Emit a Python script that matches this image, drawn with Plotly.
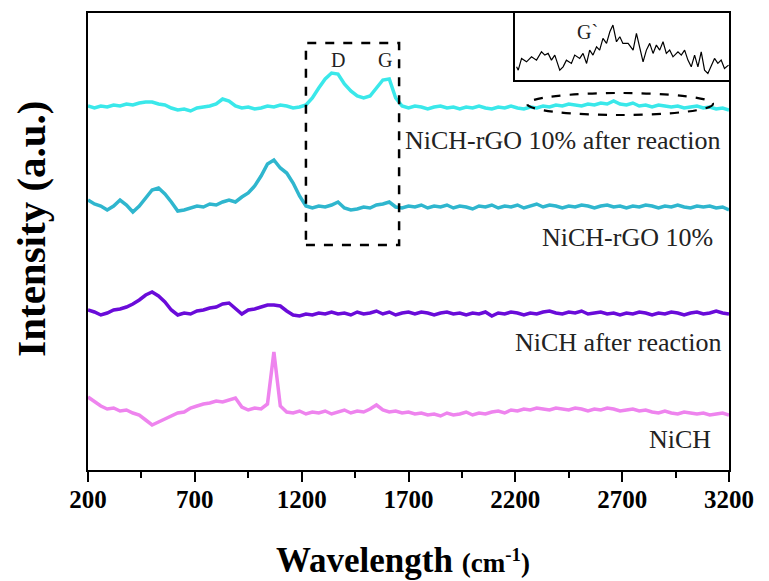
import plotly.graph_objects as go

# ---------------- data ----------------
wavenumber = list(range(200, 3201, 30))  # sampling grid, cm-1

rgo_after = [364, 362, 364, 363, 365, 364, 366, 365, 367, 368,
             368, 366, 365, 362, 360, 361, 359, 362, 363, 364,
             366, 371, 369, 364, 362, 363, 361, 362, 364, 363,
             365, 364, 362, 363, 365, 372, 382, 391, 397, 396,
             386, 379, 374, 372, 374, 382, 390, 391, 372, 364,
             362, 364, 363, 361, 363, 364, 362, 363, 361, 363,
             362, 364, 362, 361, 363, 362, 364, 362, 361, 363,
             362, 364, 363, 365, 364, 366, 365, 364, 366, 365,
             367, 366, 369, 366, 365, 367, 364, 365, 363, 365,
             364, 363, 364, 362, 363, 364, 362, 363, 361, 362, 360]

rgo = [270, 266, 264, 260, 264, 270, 265, 258, 264, 272,
       280, 282, 276, 268, 259, 260, 262, 264, 263, 266,
       265, 268, 270, 268, 273, 277, 284, 294, 306, 310,
       302, 297, 287, 274, 264, 262, 264, 263, 265, 268,
       262, 260, 261, 263, 262, 265, 266, 268, 263, 262,
       264, 263, 265, 262, 264, 263, 265, 262, 264, 263,
       261, 264, 263, 265, 262, 264, 263, 265, 262, 264,
       266, 263, 265, 264, 262, 264, 263, 265, 264, 262,
       264, 265, 263, 264, 262, 264, 263, 265, 264, 262,
       264, 263, 265, 263, 262, 264, 263, 264, 262, 263, 260]

nich_after = [160, 158, 155, 157, 160, 161, 163, 166, 170, 175,
              178, 174, 168, 160, 155, 157, 156, 159, 160, 162,
              163, 166, 167, 161, 156, 160, 161, 163, 165, 165,
              164, 159, 155, 154, 156, 155, 157, 156, 158, 156,
              157, 155, 158, 156, 157, 159, 156, 158, 155, 157,
              158, 156, 158, 157, 155, 157, 158, 156, 157, 155,
              157, 156, 158, 154, 157, 156, 158, 157, 155, 157,
              156, 158, 159, 157, 156, 158, 157, 159, 156, 157,
              158, 156, 157, 155, 157, 156, 158, 157, 155, 157,
              156, 158, 157, 155, 157, 158, 156, 157, 159, 157, 156]

nich = [73, 68, 64, 61, 62, 59, 60, 57, 55, 50,
        45, 48, 51, 54, 57, 58, 62, 64, 66, 67,
        69, 68, 70, 72, 63, 60, 62, 61, 66, 118,
        64, 58, 57, 59, 56, 58, 57, 59, 56, 58,
        60, 57, 59, 58, 61, 65, 60, 58, 59, 57,
        58, 56, 57, 55, 56, 54, 57, 55, 56, 58,
        55, 57, 56, 58, 59, 57, 60, 59, 61, 60,
        62, 61, 60, 62, 61, 60, 62, 61, 59, 61,
        60, 62, 61, 59, 60, 61, 59, 60, 58, 57,
        59, 57, 56, 58, 57, 56, 57, 55, 56, 57, 55]

inset_wn = [2257, 2264, 2278, 2299, 2320, 2341, 2362, 2376, 2390, 2404,
            2418, 2439, 2453, 2467, 2488, 2502, 2523, 2537, 2552, 2565,
            2579, 2594, 2607, 2621, 2636, 2650, 2663, 2678, 2692, 2705,
            2727, 2748, 2762, 2776, 2790, 2804, 2818, 2832, 2846, 2860,
            2874, 2888, 2902, 2916, 2937, 2951, 2965, 2979, 2993, 3007,
            3021, 3035, 3049, 3063, 3077, 3091, 3105, 3119, 3133, 3150]
inset_int = [13.3, 10, 21.7, 18.3, 23.3, 20, 28.3, 25, 26.7, 20,
             25, 10, 13.3, 20, 16.7, 25, 21.7, 26.7, 16.7, 30,
             25, 33.3, 30, 41.7, 36.7, 48.3, 55, 38.3, 43.3, 36.7,
             36.7, 30, 46.7, 31.7, 18.3, 30, 36.7, 26.7, 35, 30,
             38.3, 26.7, 30, 23.3, 28.3, 25, 30, 20, 13.3, 25,
             13.3, 28.3, 10, 6.7, 15, 21.7, 16.7, 20, 11.7, 15]

series_names = ["NiCH-rGO 10% after reaction", "NiCH-rGO 10%",
                "NiCH after reaction", "NiCH"]
series_vals = [rgo_after, rgo, nich_after, nich]
series_colors = ["#3AE8EA", "#2FB6CE", "#6A0BD9", "#EE84EE"]
label_pos = [(3172, 330), (3134, 233), (3172, 128), (3125, 31)]

x_ticks = [200, 700, 1200, 1700, 2200, 2700, 3200]

# ---------------- figure ----------------
fig = go.Figure()
for name, vals, col in zip(series_names, series_vals, series_colors):
    fig.add_trace(go.Scatter(x=wavenumber, y=vals, mode="lines", name=name,
                             line=dict(color=col, width=3.5), showlegend=False))

fig.add_trace(go.Scatter(x=inset_wn, y=inset_int, mode="lines", xaxis="x2", yaxis="y2",
                         line=dict(color="black", width=1.2), showlegend=False))

serif = "Liberation Serif"
annotations = []
for name, (lx, ly) in zip(series_names, label_pos):
    annotations.append(dict(x=lx, y=ly, xref="x", yref="y", text=name, showarrow=False,
                            xanchor="right", yanchor="middle",
                            font=dict(family=serif, size=26, color="#222")))
annotations += [
    dict(x=1370, y=410, xref="x", yref="y", text="D", showarrow=False,
         font=dict(family=serif, size=20, color="#222")),
    dict(x=1590, y=410, xref="x", yref="y", text="G", showarrow=False,
         font=dict(family=serif, size=20, color="#222")),
    dict(x=2557, y=48, xref="x2", yref="y2", text="G`", showarrow=False,
         font=dict(family=serif, size=20, color="#222")),
    dict(x=0.492, y=-0.197, xref="paper", yref="paper", showarrow=False,
         xanchor="center", yanchor="middle",
         text="<b>Wavelength</b> <span style='font-size:27px'><b>(cm<sup>-1</sup>)</b></span>",
         font=dict(family=serif, size=35, color="black")),
    dict(x=-0.088, y=0.527, xref="paper", yref="paper", showarrow=False,
         textangle=-90, xanchor="center", yanchor="middle",
         text="<b>Intensity (a.u.)</b>",
         font=dict(family=serif, size=41, color="black")),
]

shapes = [
    dict(type="rect", xref="x", yref="y", x0=1220, x1=1656, y0=225, y1=427,
         line=dict(color="black", width=2.5, dash="dash")),
    dict(type="circle", xref="x", yref="y", x0=2255, x1=3125, y0=355, y1=377,
         line=dict(color="black", width=2.2, dash="dash")),
]

fig.update_layout(
    width=769, height=581,
    margin=dict(l=88, r=40, t=13, b=111),
    paper_bgcolor="white", plot_bgcolor="white",
    annotations=annotations, shapes=shapes,
    xaxis=dict(range=[200, 3200], tickvals=x_ticks, ticks="outside", ticklen=10,
               tickwidth=2, tickcolor="black",
               minor=dict(ticks="outside", ticklen=6, tickwidth=2, dtick=250,
                          tick0=200, tickcolor="black"),
               showline=True, linewidth=2, linecolor="black", mirror=True,
               showgrid=False, zeroline=False, ticklabelstandoff=-4,
               tickfont=dict(family=serif, size=25, color="black", weight="bold")),
    yaxis=dict(range=[0, 457], showticklabels=False, ticks="",
               showline=True, linewidth=2, linecolor="black", mirror=True,
               showgrid=False, zeroline=False),
    xaxis2=dict(domain=[0.666, 1.0], anchor="y2", range=[2250, 3152],
                showticklabels=False, ticks="", showgrid=False, zeroline=False,
                showline=True, linewidth=1.5, linecolor="black", mirror=True),
    yaxis2=dict(domain=[0.853, 1.0], anchor="x2", range=[0, 67],
                showticklabels=False, ticks="", showgrid=False, zeroline=False,
                showline=True, linewidth=1.5, linecolor="black", mirror=True),
)

fig.write_html("out.html")
